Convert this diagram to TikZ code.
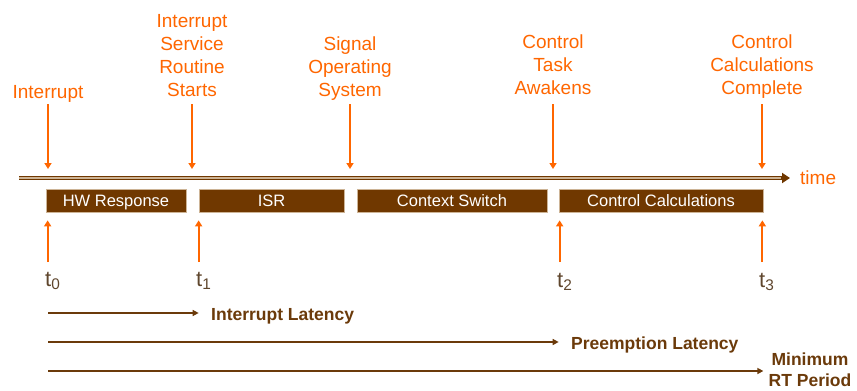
\documentclass[tikz,border=0pt]{standalone}
\usepackage{fontspec}
\setmainfont{Liberation Sans}
\usepackage{xcolor}
\usepackage{tikz}
\usetikzlibrary{
    positioning,
    arrows.meta,
    calc
}
\definecolor{evorange}{RGB}{255,102,0}
\definecolor{phasebrown}{RGB}{112,56,0}
\definecolor{spanbrown}{RGB}{107,58,10}
\definecolor{linetan}{RGB}{205,180,150}
\definecolor{ticktext}{RGB}{95,70,45}

\begin{document}
\begin{tikzpicture}[x=1pt, y=-1pt,
    event/.style={text=evorange, align=center, anchor=base, inner sep=0pt,
                  font=\fontsize{19}{23}\selectfont},
    phase/.style={fill=phasebrown, draw=linetan, line width=0.7pt, text=white,
                  minimum height=23pt, inner sep=0pt, text height=12pt, text depth=0pt,
                  font=\fontsize{16.5}{19}\selectfont},
    tlab/.style={text=ticktext, anchor=base west, inner sep=0pt,
                 font=\fontsize{22}{24}\selectfont},
    span/.style={text=spanbrown, align=center, anchor=base west, inner sep=0pt,
                 font=\bfseries\fontsize{17.5}{21}\selectfont},
    earr/.style={-{Triangle[width=7pt,length=6pt]}, line width=1.8pt, draw=evorange},
    sarr/.style={-{Triangle[width=6pt,length=6pt]}, line width=1.8pt, draw=spanbrown}]

    \useasboundingbox (0,0) rectangle (857,391);

    % ============ TIME AXIS ============
    \coordinate (tline) at (19,178);
    \coordinate (tend)  at (790,178);
    \draw[phasebrown, line width=4.2pt, -{Triangle[width=10pt,length=8pt]}] (tline) -- (tend);
    \draw[linetan, line width=1.6pt, shorten >=9pt] (tline) -- (tend);
    \node[text=evorange, anchor=west, inner sep=0pt, font=\fontsize{19}{23}\selectfont]
      (time) at (800,178) {time};

    % ============ PHASES ============
    \node[phase, minimum width=140pt] (hw)   at (116,200.5)   {HW Response};
    \node[phase, minimum width=145pt] (isr)  at (271.5,200.5) {ISR};
    \node[phase, minimum width=190pt] (ctx)  at (452,200.5)   {Context Switch};
    \node[phase, minimum width=204pt] (calc) at (661,200.5)   {Control Calculations};

    % ============ EVENTS (above the axis) ============
    % base = baseline of the last line
    \node[event] (irq)   at (48,98)    {Interrupt};
    \node[event] (isrs)  at (192,96)   {Interrupt\\Service\\Routine\\Starts};
    \node[event] (sigos) at (350,96)   {Signal\\Operating\\System};
    \node[event] (wake)  at (553,94.5) {Control\\Task\\Awakens};
    \node[event] (done)  at (762,94.5) {Control\\Calculations\\Complete};

    \coordinate (evtop) at (0,104);
    \foreach \ev in {irq,isrs,sigos,wake,done}
      \draw[earr, shorten >=9pt] (\ev |- evtop) -- (\ev |- tline);

    % ============ TIME MARKS (below the phases) ============
    \node[tlab] (t0) at (45,286)  {t\textsubscript{0}};
    \node[tlab] (t1) at (196,286) {t\textsubscript{1}};
    \node[tlab] (t2) at (557,287) {t\textsubscript{2}};
    \node[tlab] (t3) at (759,287) {t\textsubscript{3}};

    \coordinate (u0) at ([xshift=2pt]hw.south west);
    \coordinate (u1) at (isr.south west);
    \coordinate (u2) at ([xshift=1pt]calc.south west);
    \coordinate (u3) at ([xshift=-1pt]calc.south east);
    \coordinate (ttop) at (0,262);
    \foreach \u in {u0,u1,u2,u3}
      \draw[earr, shorten >=8pt] (\u |- ttop) -- (\u);

    % ============ LATENCY SPANS ============
    \node[span] (ilat) at (211,320)   {Interrupt Latency};
    \node[span] (plat) at (571,349)   {Preemption Latency};
    \node[span, anchor=base] (rtp) at (810,386) {Minimum\\RT Period};

    \coordinate (s1) at (48,313);
    \coordinate (s2) at (48,342);
    \coordinate (s3) at (48,371);
    \draw[sarr] (s1) -- (s1 -| isr.west);
    \draw[sarr] (s2) -- (s2 -| calc.west);
    \draw[sarr] (s3) -- (s3 -| calc.east);

\end{tikzpicture}
\end{document}
